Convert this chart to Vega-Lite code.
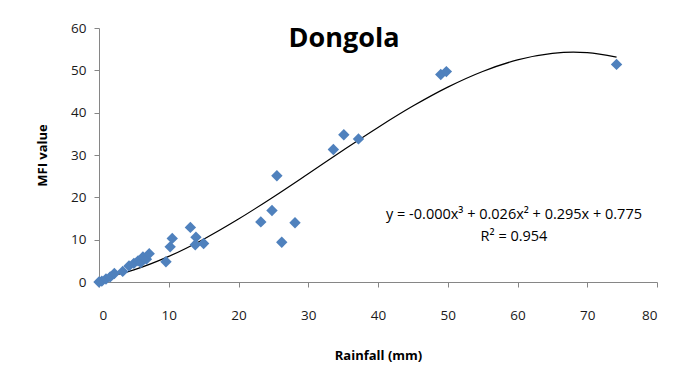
{
  "$schema": "https://vega.github.io/schema/vega-lite/v6.json",
  "autosize": "none",
  "width": 558,
  "height": 254,
  "padding": {"left": 99, "top": 28, "right": 24, "bottom": 94},
  "background": "white",
  "config": {"view": {"stroke": null}, "font": "Open Sans"},
  "title": {"text": "Dongola", "font": "Open Sans", "fontSize": 27, "fontWeight": "bold", "color": "#000000", "anchor": "middle", "dx": -34, "offset": -32, "baseline": "top"},
  "datasets": {
    "points": [
      {"rain": 0.0, "mfi": 0.0},
      {"rain": 0.4, "mfi": 0.2},
      {"rain": 1.0, "mfi": 0.7},
      {"rain": 1.6, "mfi": 1.2},
      {"rain": 2.2, "mfi": 2.0},
      {"rain": 3.4, "mfi": 2.5},
      {"rain": 4.3, "mfi": 3.8},
      {"rain": 5.0, "mfi": 4.4},
      {"rain": 5.6, "mfi": 5.0},
      {"rain": 6.0, "mfi": 4.6},
      {"rain": 6.3, "mfi": 5.9},
      {"rain": 6.8, "mfi": 5.4},
      {"rain": 7.2, "mfi": 6.7},
      {"rain": 9.6, "mfi": 4.8},
      {"rain": 10.2, "mfi": 8.3},
      {"rain": 10.5, "mfi": 10.3},
      {"rain": 13.1, "mfi": 12.9},
      {"rain": 13.9, "mfi": 10.6},
      {"rain": 13.8, "mfi": 8.8},
      {"rain": 15.0, "mfi": 9.1},
      {"rain": 23.2, "mfi": 14.2},
      {"rain": 24.8, "mfi": 16.9},
      {"rain": 25.5, "mfi": 25.1},
      {"rain": 26.2, "mfi": 9.4},
      {"rain": 28.1, "mfi": 14.0},
      {"rain": 33.6, "mfi": 31.3},
      {"rain": 35.1, "mfi": 34.8},
      {"rain": 37.2, "mfi": 33.8},
      {"rain": 49.0, "mfi": 49.0},
      {"rain": 49.8, "mfi": 49.7},
      {"rain": 74.2, "mfi": 51.4}
    ],
    "trend": [
      {"rain": 0, "mfi": 0.78},
      {"rain": 5, "mfi": 2.87},
      {"rain": 10, "mfi": 6.05},
      {"rain": 15, "mfi": 10.12},
      {"rain": 20, "mfi": 14.87},
      {"rain": 25, "mfi": 20.09},
      {"rain": 30, "mfi": 25.57},
      {"rain": 35, "mfi": 31.12},
      {"rain": 40, "mfi": 36.51},
      {"rain": 45, "mfi": 41.55},
      {"rain": 50, "mfi": 46.03},
      {"rain": 55, "mfi": 49.73},
      {"rain": 60, "mfi": 52.46},
      {"rain": 65, "mfi": 54.0},
      {"rain": 68, "mfi": 54.3},
      {"rain": 70, "mfi": 54.16},
      {"rain": 74.2, "mfi": 53.1}
    ],
    "label": [{"eq": "y = -0.000x³ + 0.026x² + 0.295x + 0.775", "r2": "R² = 0.954"}]
  },
  "layer": [
    {
      "data": {"name": "trend"},
      "mark": {"type": "line", "color": "#000000", "strokeWidth": 1.2, "interpolate": "monotone"},
      "encoding": {
        "x": {"field": "rain", "type": "quantitative"},
        "y": {"field": "mfi", "type": "quantitative"}
      }
    },
    {
      "data": {"name": "points"},
      "mark": {"type": "point", "shape": "diamond", "filled": true, "color": "#4F81BD", "opacity": 1, "size": 130},
      "encoding": {
        "x": {"field": "rain", "type": "quantitative",
          "scale": {"domain": [0, 80], "nice": false, "zero": true},
          "axis": {"title": "Rainfall (mm)", "values": [0,10,20,30,40,50,60,70,80], "grid": false, "domainColor": "#868686", "tickColor": "#868686", "tickSize": 5, "labelPadding": 21, "labelFontSize": 13.5, "labelColor": "#1a1a1a", "labelFont": "Open Sans", "titleFont": "Open Sans", "titleFontSize": 13, "titleFontWeight": "bold", "titleColor": "#000000", "titlePadding": 28}},
        "y": {"field": "mfi", "type": "quantitative",
          "scale": {"domain": [0, 60], "nice": false},
          "axis": {"title": "MFI value", "values": [0,10,20,30,40,50,60], "grid": false, "domainColor": "#868686", "tickColor": "#868686", "tickSize": 5, "labelPadding": 8, "labelFontSize": 13.5, "labelColor": "#1a1a1a", "labelFont": "Open Sans", "titleFont": "Open Sans", "titleFontSize": 13, "titleFontWeight": "bold", "titleColor": "#000000", "titlePadding": 21}}
      }
    },
    {
      "data": {"name": "label"},
      "mark": {"type": "text", "font": "Open Sans", "fontSize": 14.5, "color": "#000000", "align": "center", "baseline": "middle"},
      "encoding": {
        "x": {"datum": 59.5, "type": "quantitative"},
        "y": {"datum": 15.8, "type": "quantitative"},
        "text": {"field": "eq"}
      }
    },
    {
      "data": {"name": "label"},
      "mark": {"type": "text", "font": "Open Sans", "fontSize": 14.5, "color": "#000000", "align": "center", "baseline": "middle"},
      "encoding": {
        "x": {"datum": 59.5, "type": "quantitative"},
        "y": {"datum": 10.7, "type": "quantitative"},
        "text": {"field": "r2"}
      }
    }
  ]
}
